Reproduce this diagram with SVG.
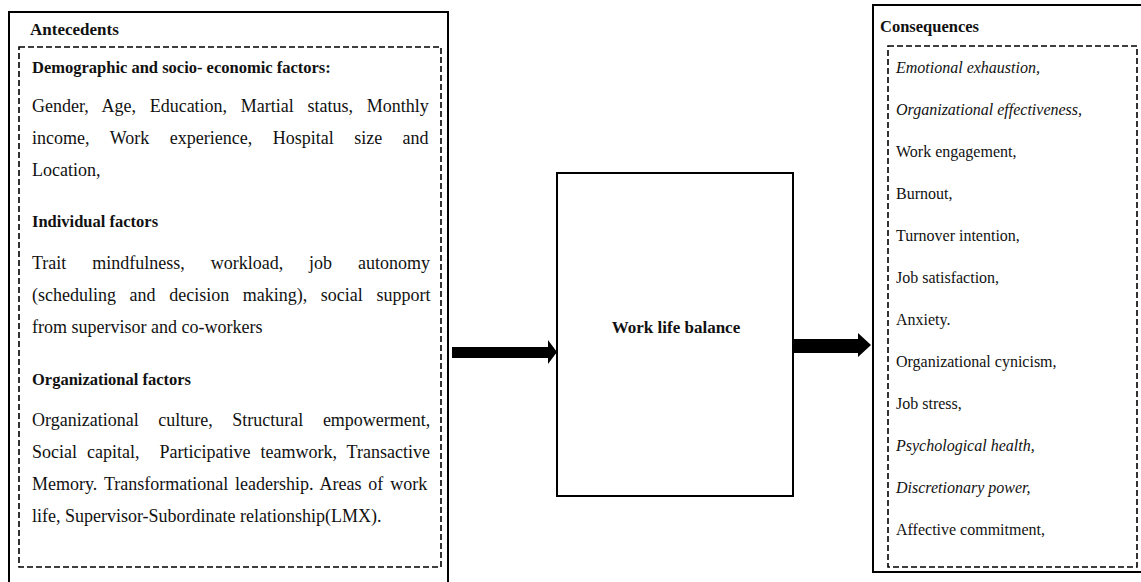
<svg xmlns="http://www.w3.org/2000/svg" width="1141" height="582" viewBox="0 0 1141 582">
<style>
.box{fill:#fff;stroke:#000;stroke-width:2}
.dash{fill:none;stroke:#000;stroke-width:1.6;stroke-dasharray:6 3}
.t{font-family:"Liberation Serif",serif;fill:#111}
.h{font-family:"Liberation Serif",serif;font-weight:bold;fill:#111}
.body{font-size:18px}
.hd{font-size:16.5px}
.ri{font-size:16px}
.it{font-style:italic}
</style>
<rect width="1141" height="582" fill="#fff"/>
<g id="antecedents">
<rect class="box" x="9" y="12" width="439" height="580"/>
<text class="h" x="30" y="35" font-size="17">Antecedents</text>
<rect class="dash" x="19" y="47" width="422" height="520"/>
<text class="h hd" x="32" y="73">Demographic and socio- economic factors:</text>
<text class="t body" x="32" y="112" word-spacing="9.2">Gender, Age, Education, Martial status, Monthly</text>
<text class="t body" x="32" y="144" word-spacing="16">income, Work experience, Hospital size and</text>
<text class="t body" x="32" y="176">Location,</text>
<text class="h hd" x="32" y="227">Individual factors</text>
<text class="t body" x="32" y="269" word-spacing="21.4">Trait mindfulness, workload, job autonomy</text>
<text class="t body" x="32" y="301" word-spacing="9.1">(scheduling and decision making), social support</text>
<text class="t body" x="32" y="333">from supervisor and co-workers</text>
<text class="h hd" x="32" y="385">Organizational factors</text>
<text class="t body" x="32" y="426" word-spacing="15.1">Organizational culture, Structural empowerment,</text>
<text class="t body" x="32" y="458" word-spacing="5.5" xml:space="preserve">Social capital,  Participative teamwork, Transactive</text>
<text class="t body" x="32" y="490" word-spacing="2.4">Memory. Transformational leadership. Areas of work</text>
<text class="t body" x="32" y="522">life, Supervisor-Subordinate relationship(LMX).</text>
</g>
<g id="wlb">
<rect class="box" x="557" y="173" width="236" height="323"/>
<text class="h" x="676" y="333" font-size="17" text-anchor="middle">Work life balance</text>
</g>
<g id="consequences">
<rect class="box" x="873" y="5" width="280" height="567"/>
<text class="h" x="880" y="32" font-size="16.5">Consequences</text>
<rect class="dash" x="888" y="46" width="249" height="521"/>
<text class="t ri it" x="896" y="73">Emotional exhaustion,</text>
<text class="t ri it" x="896" y="115" font-size="17">Organizational effectiveness,</text>
<text class="t ri" x="896" y="157">Work engagement,</text>
<text class="t ri" x="896" y="199">Burnout,</text>
<text class="t ri" x="896" y="241">Turnover intention,</text>
<text class="t ri" x="896" y="283">Job satisfaction,</text>
<text class="t ri" x="896" y="325">Anxiety.</text>
<text class="t ri" x="896" y="367">Organizational cynicism,</text>
<text class="t ri" x="896" y="409">Job stress,</text>
<text class="t ri it" x="896" y="451">Psychological health,</text>
<text class="t ri it" x="896" y="493">Discretionary power,</text>
<text class="t ri" x="896" y="535">Affective commitment,</text>
</g>
<g id="connectors">
<polygon points="452,347 548,347 548,340 557,352 548,364 548,358 452,358" fill="#000"/>
<polygon points="793,339 858,339 858,333 871,345 858,357 858,353 793,353" fill="#000"/>
</g>
</svg>
